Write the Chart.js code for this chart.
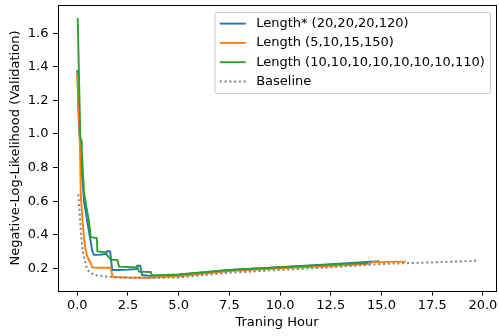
<!DOCTYPE html>
<html>
<head>
<meta charset="utf-8">
<script src="https://cdn.jsdelivr.net/npm/chart.js@4.4.1/dist/chart.umd.min.js"></script>
<style>
  html, body { margin: 0; padding: 0; background: #fff; }
  #wrap { width: 499px; height: 336px; }
</style>
</head>
<body>
<div id="wrap"><canvas id="c" width="499" height="336"></canvas></div>
<script>
// Validation NLL vs training hours.
const xTicks = [0, 2.5, 5, 7.5, 10, 12.5, 15, 17.5, 20];
const yTicks = [0.2, 0.4, 0.6, 0.8, 1.0, 1.2, 1.4, 1.6];

const labels = [
  'Length* (20,20,20,120)',
  'Length (5,10,15,150)',
  'Length (10,10,10,10,10,10,10,110)',
  'Baseline',
];

const blueX = [0.0, 0.08, 0.15, 0.22, 0.33, 0.49, 0.63, 0.74, 0.82, 1.0, 1.2, 1.4, 1.48, 1.62, 1.72, 2.0, 2.5, 2.9, 2.95, 3.1, 3.2, 3.6, 5.0, 7.5, 10.0, 12.5, 14.9];
const blueY = [1.38, 1.05, 0.93, 0.78, 0.60, 0.48, 0.38, 0.30, 0.28, 0.28, 0.282, 0.285, 0.303, 0.30, 0.19, 0.19, 0.192, 0.195, 0.215, 0.215, 0.16, 0.155, 0.162, 0.19, 0.207, 0.225, 0.243];

const orangeX = [0.0, 0.08, 0.13, 0.17, 0.25, 0.33, 0.41, 0.49, 0.66, 0.74, 1.0, 1.65, 1.72, 1.78, 2.5, 3.5, 5.0, 7.5, 10.0, 12.5, 14.4, 14.55, 16.2];
const orangeY = [1.36, 1.1, 0.94, 0.64, 0.50, 0.38, 0.31, 0.27, 0.23, 0.205, 0.203, 0.203, 0.16, 0.148, 0.145, 0.144, 0.152, 0.184, 0.2, 0.214, 0.226, 0.237, 0.24];

const greenX = [0.02, 0.15, 0.2, 0.22, 0.33, 0.46, 0.58, 0.66, 0.96, 0.99, 1.4, 1.45, 1.65, 1.97, 2.06, 2.96, 3.04, 3.62, 3.68, 5.0, 7.5, 10.0, 12.5, 14.35];
const greenY = [1.69, 0.98, 0.96, 0.9, 0.65, 0.557, 0.478, 0.385, 0.38, 0.30, 0.295, 0.28, 0.25, 0.25, 0.21, 0.205, 0.18, 0.178, 0.158, 0.163, 0.19, 0.206, 0.222, 0.232];

const baseX = [0.05, 0.08, 0.13, 0.2, 0.3, 0.49, 0.82, 1.32, 1.97, 3.0, 3.77, 5.0, 7.5, 10.0, 12.5, 15.0, 17.5, 19.7];
const baseY = [0.64, 0.59, 0.5, 0.38, 0.28, 0.19, 0.16, 0.152, 0.146, 0.143, 0.143, 0.146, 0.174, 0.19, 0.206, 0.226, 0.235, 0.245];

const FONT = { family: '"DejaVu Sans", sans-serif', size: 13 };
const pts = (xs, ys) => xs.map((x, i) => ({ x, y: ys[i] }));

// matplotlib-ish frame: all four spines + legend box in the top right.
const framePlugin = {
  id: 'frame',
  afterDraw(chart) {
    const { ctx, chartArea: a } = chart;
    ctx.save();
    ctx.strokeStyle = '#000';
    ctx.lineWidth = 1;
    ctx.strokeRect(Math.round(a.left) + 0.5, Math.round(a.top) + 0.5,
                   Math.round(a.right - a.left) - 1, Math.round(a.bottom - a.top));

    // legend
    ctx.font = `${FONT.size}px ${FONT.family}`;
    const sets = chart.data.datasets;
    const textW = Math.max(...sets.map(d => ctx.measureText(d.label).width));
    const pad = 5.2, handle = 26, gap = 10.4, rowH = 19.3;
    const w = pad + handle + gap + textW + pad;
    const h = pad * 2 + rowH * sets.length - 6.5;
    const x0 = a.right - 6.5 - w, y0 = a.top + 7;
    ctx.beginPath();
    ctx.roundRect(x0 + 0.5, y0 + 0.5, w, h, 2.6);
    ctx.fillStyle = 'rgba(255,255,255,0.8)';
    ctx.fill();
    ctx.strokeStyle = '#cccccc';
    ctx.stroke();
    ctx.textBaseline = 'middle';
    ctx.textAlign = 'left';
    sets.forEach((d, i) => {
      const cy = y0 + pad + 6.4 + i * rowH;
      ctx.beginPath();
      ctx.setLineDash(d.borderDash || []);
      ctx.strokeStyle = d.borderColor;
      ctx.lineWidth = d.borderWidth;
      ctx.moveTo(x0 + pad, cy);
      ctx.lineTo(x0 + pad + handle, cy);
      ctx.stroke();
      ctx.setLineDash([]);
      ctx.fillStyle = '#000';
      ctx.fillText(d.label, x0 + pad + handle + gap, cy);
    });
    ctx.restore();
  },
};

const line = (label, data, color, order, extra) => Object.assign({
  label, data, order,
  borderColor: color, backgroundColor: color,
  borderWidth: 1.9, pointRadius: 0, tension: 0, fill: false,
}, extra || {});

new Chart(document.getElementById('c'), {
  type: 'line',
  data: {
    datasets: [
      line(labels[0], pts(blueX, blueY), '#1f77b4', 3),
      line(labels[1], pts(orangeX, orangeY), '#ff7f0e', 2),
      line(labels[2], pts(greenX, greenY), '#2ca02c', 1),
      line(labels[3], pts(baseX, baseY), '#808080', 0, { borderDash: [2, 2.8], borderWidth: 2 }),
    ],
  },
  options: {
    responsive: false,
    animation: false,
    devicePixelRatio: 1,
    layout: { padding: { top: 5, right: 2.5, left: 0, bottom: 0 } },
    plugins: { legend: { display: false }, tooltip: { enabled: false } },
    scales: {
      x: {
        type: 'linear',
        min: -0.976, max: 20.67,
        afterBuildTicks: (s) => { s.ticks = xTicks.map(v => ({ value: v })); },
        afterFit: (s) => { s.height = 45; s.paddingLeft = 0; s.paddingRight = 0; },
        border: { display: false },
        grid: { drawOnChartArea: false, drawTicks: true, tickLength: 4.5, tickWidth: 1, tickColor: '#000' },
        ticks: {
          autoSkip: false, maxRotation: 0, padding: 2.4, color: '#000', font: FONT,
          callback: (v) => Number(v).toFixed(1),
        },
        title: { display: true, text: 'Traning Hour', color: '#000', font: FONT, padding: { top: 0, bottom: 5.9 } },
      },
      y: {
        type: 'linear',
        min: 0.0648, max: 1.768,
        afterBuildTicks: (s) => { s.ticks = yTicks.map(v => ({ value: v })); },
        afterFit: (s) => { s.width = 57.5; s.paddingTop = 0; s.paddingBottom = 0; },
        border: { display: false },
        grid: { drawOnChartArea: false, drawTicks: true, tickLength: 4.5, tickWidth: 1, tickColor: '#000' },
        ticks: {
          padding: 4.5, color: '#000', font: FONT,
          callback: (v) => Number(v).toFixed(1),
        },
        title: { display: true, text: 'Negative-Log-Likelihood (Validation)', color: '#000', font: FONT, padding: { top: 7.7, bottom: 0 } },
      },
    },
  },
  plugins: [framePlugin],
});
</script>
</body>
</html>
